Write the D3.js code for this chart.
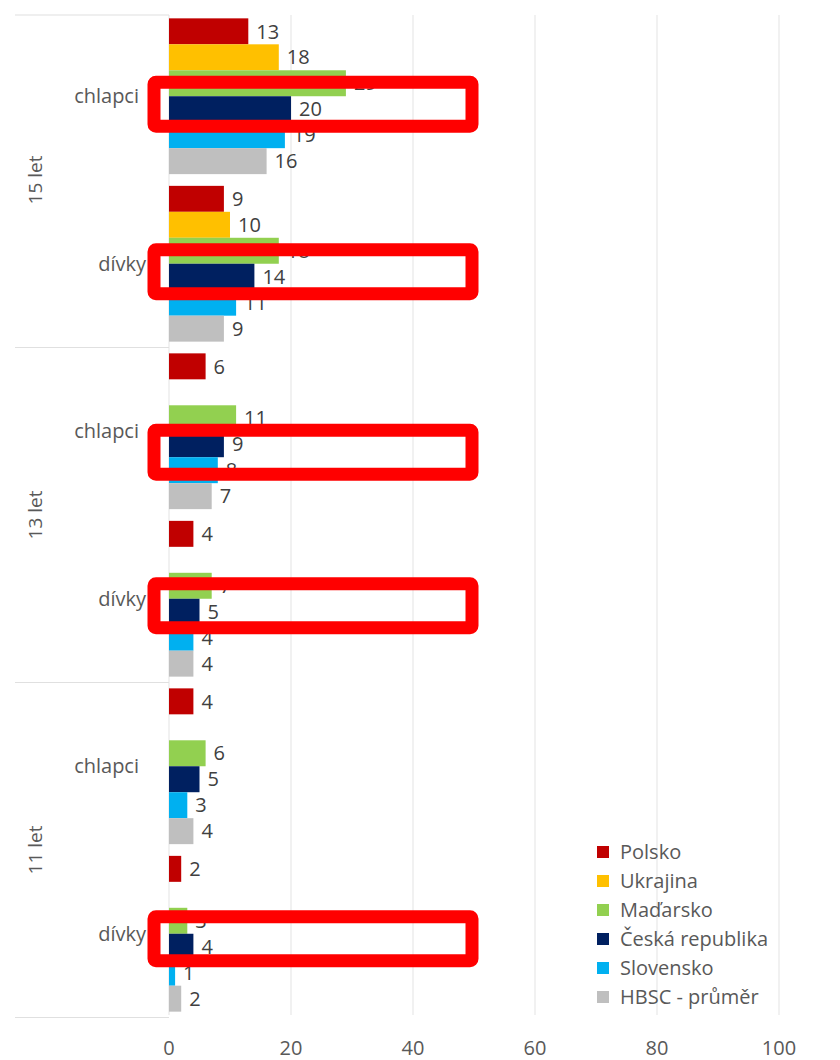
<!DOCTYPE html>
<html>
<head>
<meta charset="utf-8">
<script src="https://cdn.jsdelivr.net/npm/d3@7"></script>
<style>
  body { margin: 0; background: #fff; }
  svg text { font-family: "Open Sans", Lato, sans-serif; }
</style>
</head>
<body>
<svg id="chart" width="840" height="1060"></svg>
<script>
// skupiny (shora dolu)
var ages = ["15 let", "13 let", "11 let"];
var genders = ["chlapci", "dívky"];
var series = ["Polsko", "Ukrajina", "Maďarsko", "Česká republika", "Slovensko", "HBSC - průměr"];
var colors = ["#C00000", "#FFC000", "#92D050", "#002060", "#00B0F0", "#BFBFBF"];

// hodnoty po skupinach: 15 chlapci, 15 divky, 13 chlapci, 13 divky, 11 chlapci, 11 divky
var polsko   = [13, 9, 6, 4, 4, 2];
var ukrajina = [18, 10, null, null, null, null];
var madarsko = [29, 18, 11, 7, 6, 3];
var cesko    = [20, 14, 9, 5, 5, 4];
var slovensko = [19, 11, 8, 4, 3, 1];
var hbsc     = [16, 9, 7, 4, 4, 2];

var xTicks = [0, 20, 40, 60, 80, 100];
// zvyraznene skupiny (cervene ramecky kolem CR)
var highlighted = [0, 1, 2, 3, 5];

var values = [polsko, ukrajina, madarsko, cesko, slovensko, hbsc];
var groups = [];
ages.forEach(function(a){
	genders.forEach(function(g){ groups.push(a + "|" + g); });
});

var svg = d3.select("#chart");
var fs = 20;

var x = d3.scaleLinear().domain([0, 100]).range([169, 779]);
var y0 = d3.scaleBand().domain(groups).range([15, 1015]).paddingInner(0.07).paddingOuter(0.02);
var y1 = d3.scaleBand().domain(series).range([0, y0.bandwidth()]);

// mrizka
svg.append("g").selectAll("line")
	.data(xTicks)
	.enter().append("line")
	.attr("x1", function(d){ return x(d); })
	.attr("x2", function(d){ return x(d); })
	.attr("y1", 15).attr("y2", 1015)
	.attr("stroke", "#e8e8e8").attr("stroke-width", 1.2);

// popisky osy x
svg.append("g").selectAll("text")
	.data(xTicks)
	.enter().append("text")
	.attr("x", function(d){ return x(d); })
	.attr("y", 1055)
	.attr("text-anchor", "middle")
	.attr("font-size", fs)
	.attr("fill", "#595959")
	.text(function(d){ return d; });

// oddelovace vekovych skupin
var sepY = [15];
ages.forEach(function(a, i){
	var last = y0(a + "|" + genders[1]);
	sepY.push(last + y0.bandwidth() + y0.step() * y0.paddingInner() / 2);
});
svg.append("g").selectAll("line")
	.data(sepY)
	.enter().append("line")
	.attr("x1", 15).attr("x2", x(0))
	.attr("y1", function(d){ return d; })
	.attr("y2", function(d){ return d; })
	.attr("stroke", "#e0e0e0").attr("stroke-width", 1.2);

// sloupce
var gGroups = svg.append("g").selectAll("g")
	.data(groups)
	.enter().append("g")
	.attr("transform", function(d){ return "translate(0," + y0(d) + ")"; });

gGroups.each(function(grp, gi){
	var g = d3.select(this);
	var rows = series.map(function(s, si){ return {s: s, si: si, v: values[si][gi]}; })
		.filter(function(d){ return d.v !== null; });

	g.selectAll("rect")
		.data(rows)
		.enter().append("rect")
		.attr("x", x(0))
		.attr("y", function(d){ return y1(d.s); })
		.attr("width", function(d){ return x(d.v) - x(0); })
		.attr("height", y1.bandwidth())
		.attr("fill", function(d){ return colors[d.si]; });

	g.selectAll("text.val")
		.data(rows)
		.enter().append("text")
		.attr("class", "val")
		.attr("x", function(d){ return x(d.v) + 8; })
		.attr("y", function(d){ return y1(d.s) + y1.bandwidth() / 2; })
		.attr("dy", "0.36em")
		.attr("font-size", fs)
		.attr("fill", "#404040")
		.text(function(d){ return d.v; });

	g.append("text")
		.attr("x", x(0) - (gi % 2 === 0 ? 30 : 23))
		.attr("y", y0.bandwidth() / 2)
		.attr("dy", "0.35em")
		.attr("text-anchor", "end")
		.attr("font-size", fs)
		.attr("fill", "#595959")
		.text(grp.split("|")[1]);
});

// vekove popisky (otocene)
ages.forEach(function(a){
	var top = y0(a + "|" + genders[0]);
	var bot = y0(a + "|" + genders[1]) + y0.bandwidth();
	var cy = (top + bot) / 2;
	svg.append("text")
		.attr("transform", "translate(35," + cy + ") rotate(-90)")
		.attr("text-anchor", "middle")
		.attr("dy", "0.35em")
		.attr("font-size", fs - 1)
		.attr("fill", "#595959")
		.text(a);
});

// legenda
var leg = svg.append("g").attr("transform", "translate(597,852)");
series.forEach(function(s, i){
	var row = leg.append("g").attr("transform", "translate(0," + (i * 29) + ")");
	row.append("rect")
		.attr("x", 0).attr("y", -6)
		.attr("width", 12).attr("height", 12)
		.attr("fill", colors[i]);
	row.append("text")
		.attr("x", 23).attr("y", 0)
		.attr("dy", "0.36em")
		.attr("font-size", fs)
		.attr("fill", "#595959")
		.text(s);
});

// cervene ramecky
var shift = {0: -5, 1: -5, 2: 8, 3: -6, 5: -8};
svg.append("g").selectAll("rect")
	.data(highlighted)
	.enter().append("rect")
	.attr("x", x(0) - 15)
	.attr("y", function(gi){
		var cy = y0(groups[gi]) + y1("Česká republika") + y1.bandwidth() / 2 + shift[gi];
		return cy - 22;
	})
	.attr("width", x(50) - x(0) + 13)
	.attr("height", 44)
	.attr("rx", 2)
	.attr("fill", "none")
	.attr("stroke", "#FF0000")
	.attr("stroke-width", 13);
</script>
</body>
</html>
